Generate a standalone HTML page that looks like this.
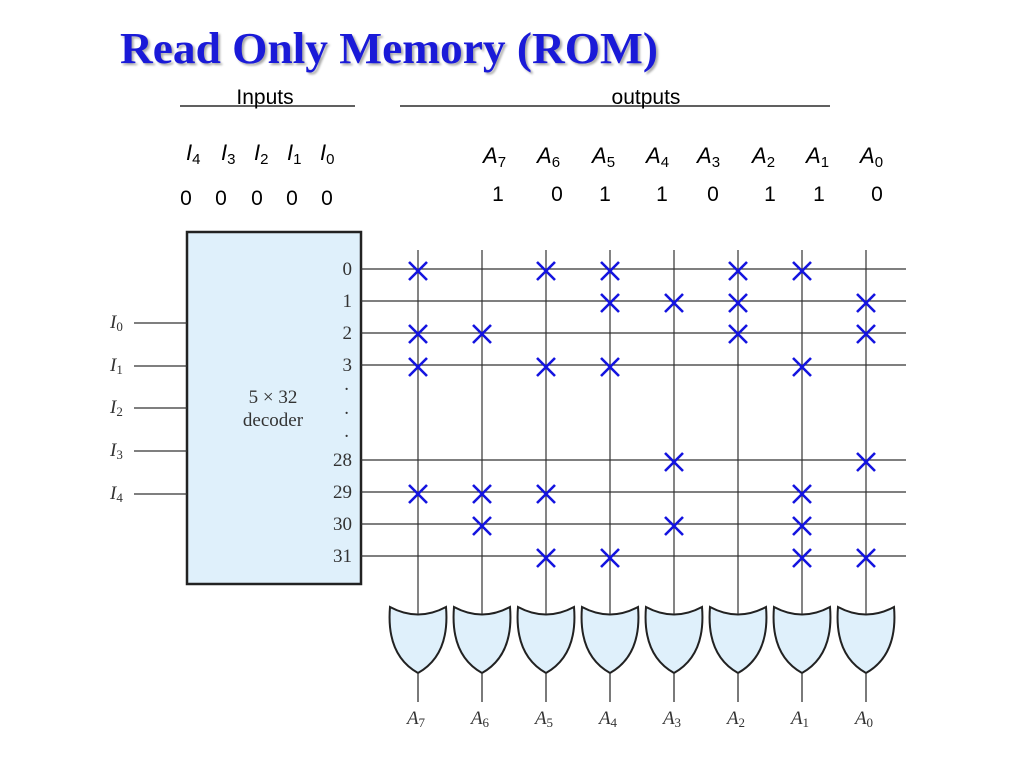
<!DOCTYPE html>
<html><head><style>
body{margin:0;background:#fff;}
svg{display:block;}
</style></head><body>
<svg width="1024" height="768" viewBox="0 0 1024 768" xmlns="http://www.w3.org/2000/svg">
<text x="120" y="63" font-family="Liberation Serif, serif" font-weight="bold" font-size="44" textLength="538" lengthAdjust="spacingAndGlyphs" fill="#1a1ad8" style="text-shadow:2px 2px 2px #aaa">Read Only Memory (ROM)</text>
<g font-family="Liberation Sans, sans-serif" font-size="21" fill="#000">
<text x="265" y="104" text-anchor="middle">Inputs</text>
<text x="646" y="104" text-anchor="middle">outputs</text>
</g>
<line x1="180" y1="106" x2="355" y2="106" stroke="#000" stroke-width="1.2"/>
<line x1="400" y1="106" x2="830" y2="106" stroke="#000" stroke-width="1.2"/>
<g font-family="Liberation Sans, sans-serif" font-size="22" font-style="italic" fill="#000">
<text x="186" y="160">I<tspan font-style="normal" font-size="15" dy="4">4</tspan></text>
<text x="221" y="160">I<tspan font-style="normal" font-size="15" dy="4">3</tspan></text>
<text x="254" y="160">I<tspan font-style="normal" font-size="15" dy="4">2</tspan></text>
<text x="287" y="160">I<tspan font-style="normal" font-size="15" dy="4">1</tspan></text>
<text x="320" y="160">I<tspan font-style="normal" font-size="15" dy="4">0</tspan></text>
<text x="483" y="163">A<tspan font-style="normal" font-size="15" dy="4">7</tspan></text>
<text x="537" y="163">A<tspan font-style="normal" font-size="15" dy="4">6</tspan></text>
<text x="592" y="163">A<tspan font-style="normal" font-size="15" dy="4">5</tspan></text>
<text x="646" y="163">A<tspan font-style="normal" font-size="15" dy="4">4</tspan></text>
<text x="697" y="163">A<tspan font-style="normal" font-size="15" dy="4">3</tspan></text>
<text x="752" y="163">A<tspan font-style="normal" font-size="15" dy="4">2</tspan></text>
<text x="806" y="163">A<tspan font-style="normal" font-size="15" dy="4">1</tspan></text>
<text x="860" y="163">A<tspan font-style="normal" font-size="15" dy="4">0</tspan></text>
</g>
<g font-family="Liberation Sans, sans-serif" font-size="21" fill="#000" text-anchor="middle">
<text x="186" y="205">0</text><text x="221" y="205">0</text><text x="257" y="205">0</text><text x="292" y="205">0</text><text x="327" y="205">0</text>
<text x="498" y="201">1</text><text x="557" y="201">0</text><text x="605" y="201">1</text><text x="662" y="201">1</text><text x="713" y="201">0</text><text x="770" y="201">1</text><text x="819" y="201">1</text><text x="877" y="201">0</text>
</g>
<rect x="187" y="232" width="174" height="352" fill="#dff0fb" stroke="#222" stroke-width="2.5"/>
<g stroke="#333" stroke-width="1.3">
<line x1="134" y1="323" x2="187" y2="323"/><line x1="134" y1="366" x2="187" y2="366"/><line x1="134" y1="408" x2="187" y2="408"/><line x1="134" y1="451" x2="187" y2="451"/><line x1="134" y1="494" x2="187" y2="494"/>
</g>
<g font-family="Liberation Serif, serif" font-size="19" fill="#333">
<text x="110" y="328" font-style="italic">I<tspan font-style="normal" font-size="13" dy="3">0</tspan></text>
<text x="110" y="371" font-style="italic">I<tspan font-style="normal" font-size="13" dy="3">1</tspan></text>
<text x="110" y="413" font-style="italic">I<tspan font-style="normal" font-size="13" dy="3">2</tspan></text>
<text x="110" y="456" font-style="italic">I<tspan font-style="normal" font-size="13" dy="3">3</tspan></text>
<text x="110" y="499" font-style="italic">I<tspan font-style="normal" font-size="13" dy="3">4</tspan></text>
<text x="273" y="403" text-anchor="middle">5 × 32</text>
<text x="273" y="426" text-anchor="middle">decoder</text>
<g text-anchor="end">
<text x="352" y="275">0</text><text x="352" y="307">1</text><text x="352" y="339">2</text><text x="352" y="371">3</text>
<text x="349" y="390">.</text><text x="349" y="414">.</text><text x="349" y="437">.</text>
<text x="352" y="466">28</text><text x="352" y="498">29</text><text x="352" y="530">30</text><text x="352" y="562">31</text>
</g>
</g>
<g stroke="#333" stroke-width="1.2">
<line x1="361" y1="269" x2="906" y2="269"/><line x1="361" y1="301" x2="906" y2="301"/><line x1="361" y1="333" x2="906" y2="333"/><line x1="361" y1="365" x2="906" y2="365"/>
<line x1="361" y1="460" x2="906" y2="460"/><line x1="361" y1="492" x2="906" y2="492"/><line x1="361" y1="524" x2="906" y2="524"/><line x1="361" y1="556" x2="906" y2="556"/>
</g>
<defs>
<g id="g"><path d="M-28,607 Q0,622 28,607 Q32,655 0,673 Q-32,655 -28,607 Z" fill="#dff0fb" stroke="#222" stroke-width="2"/><line x1="0" y1="250" x2="0" y2="614" stroke="#333" stroke-width="1.2"/><line x1="0" y1="673" x2="0" y2="702" stroke="#333" stroke-width="1.3"/></g>
<path id="x" d="M-9,-9 L9,9 M9,-9 L-9,9" stroke="#1414e0" stroke-width="2.6" fill="none"/>
</defs>
<use href="#g" x="418"/><use href="#g" x="482"/><use href="#g" x="546"/><use href="#g" x="610"/><use href="#g" x="674"/><use href="#g" x="738"/><use href="#g" x="802"/><use href="#g" x="866"/>
<g font-family="Liberation Serif, serif" font-size="19" fill="#333" font-style="italic" text-anchor="middle">
<text x="416" y="724">A<tspan font-style="normal" font-size="13" dy="3">7</tspan></text>
<text x="480" y="724">A<tspan font-style="normal" font-size="13" dy="3">6</tspan></text>
<text x="544" y="724">A<tspan font-style="normal" font-size="13" dy="3">5</tspan></text>
<text x="608" y="724">A<tspan font-style="normal" font-size="13" dy="3">4</tspan></text>
<text x="672" y="724">A<tspan font-style="normal" font-size="13" dy="3">3</tspan></text>
<text x="736" y="724">A<tspan font-style="normal" font-size="13" dy="3">2</tspan></text>
<text x="800" y="724">A<tspan font-style="normal" font-size="13" dy="3">1</tspan></text>
<text x="864" y="724">A<tspan font-style="normal" font-size="13" dy="3">0</tspan></text>
</g>
<g>
<use href="#x" x="418" y="271"/><use href="#x" x="546" y="271"/><use href="#x" x="610" y="271"/><use href="#x" x="738" y="271"/><use href="#x" x="802" y="271"/>
<use href="#x" x="610" y="303"/><use href="#x" x="674" y="303"/><use href="#x" x="738" y="303"/><use href="#x" x="866" y="303"/>
<use href="#x" x="418" y="334"/><use href="#x" x="482" y="334"/><use href="#x" x="738" y="334"/><use href="#x" x="866" y="334"/>
<use href="#x" x="418" y="367"/><use href="#x" x="546" y="367"/><use href="#x" x="610" y="367"/><use href="#x" x="802" y="367"/>
<use href="#x" x="674" y="462"/><use href="#x" x="866" y="462"/>
<use href="#x" x="418" y="494"/><use href="#x" x="482" y="494"/><use href="#x" x="546" y="494"/><use href="#x" x="802" y="494"/>
<use href="#x" x="482" y="526"/><use href="#x" x="674" y="526"/><use href="#x" x="802" y="526"/>
<use href="#x" x="546" y="558"/><use href="#x" x="610" y="558"/><use href="#x" x="802" y="558"/><use href="#x" x="866" y="558"/>
</g>
</svg>
</body></html>
